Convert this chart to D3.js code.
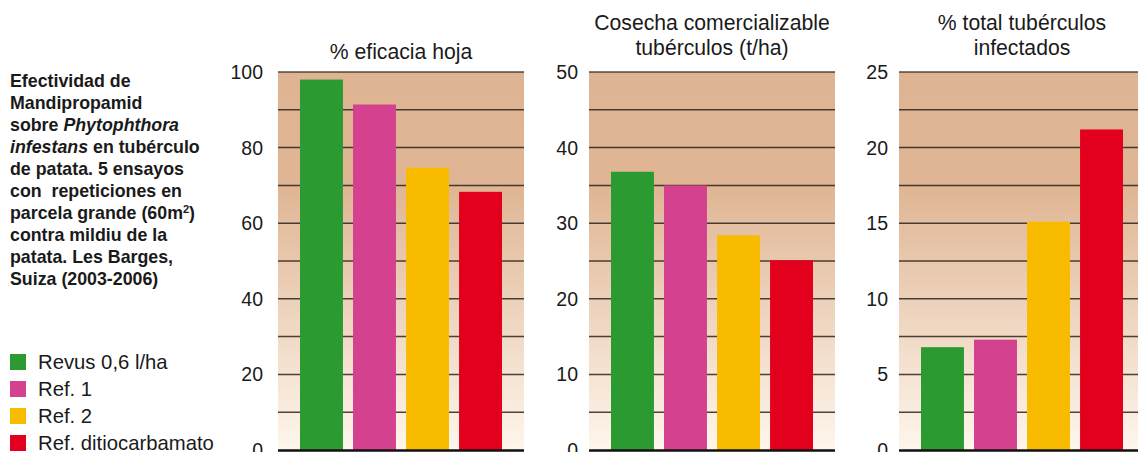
<!DOCTYPE html>
<html>
<head>
<meta charset="utf-8">
<script src="https://cdn.jsdelivr.net/npm/d3@7"></script>
<style>
  html, body { margin: 0; padding: 0; background: #fff; }
  svg { display: block; font-family: "Liberation Sans", Arial, Helvetica, sans-serif; }
  .note { font-weight: bold; font-size: 17.8px; fill: #1a1a1a; white-space: pre; }
  .legend text { font-size: 20.3px; fill: #1a1a1a; }
  .tick-label { font-size: 19.5px; fill: #1a1a1a; }
  .title { font-size: 21.2px; fill: #1a1a1a; }
</style>
</head>
<body>
<div id="chart"></div>
<script>
// data
const series = ['Revus 0,6 l/ha', 'Ref. 1', 'Ref. 2', 'Ref. ditiocarbamato'];
const seriesColors = ['#2a9a31', '#d4428f', '#f9bb00', '#e2001c'];

const eficaciaHoja = [98, 91.4, 74.7, 68.3];
const cosecha = [36.8, 35.0, 28.4, 25.1];
const infectados = [6.8, 7.3, 15.1, 21.2];

const panelTitles = [
  ['% eficacia hoja'],
  ['Cosecha comercializable', 'tubérculos (t/ha)'],
  ['% total tubérculos', 'infectados']
];
const yMax = [100, 50, 25];
const tickStep = [20, 10, 5];
const gridStep = [10, 5, 2.5];

// note text, each line a list of [text, style]
const noteLines = [
  [['Efectividad de']],
  [['Mandipropamid']],
  [['sobre '], ['Phytophthora', 'i']],
  [['infestans', 'i'], [' en tubérculo']],
  [['de patata. 5 ensayos']],
  [['con  repeticiones en']],
  [['parcela grande (60m'], ['2', 'sup'], [')']],
  [['contra mildiu de la']],
  [['patata. Les Barges,']],
  [['Suiza (2003-2006)']]
];

const W = 1138, H = 452;
const panelX = [278, 589, 899];
const panelW = 246;
const plotTop = 72, plotBottom = 450;
const titleBase = [[59], [30, 55], [30, 55]];
const labelGap = [15, 11, 11];

const svg = d3.select('#chart').append('svg')
  .attr('width', W).attr('height', H);

const defs = svg.append('defs');
const grad = defs.append('linearGradient')
  .attr('id', 'bg').attr('gradientUnits', 'userSpaceOnUse')
  .attr('x1', 0).attr('y1', plotTop).attr('x2', 0).attr('y2', plotBottom);
grad.append('stop').attr('offset', 0).attr('stop-color', '#dfb492');
grad.append('stop').attr('offset', 0.3).attr('stop-color', '#dfb593');
grad.append('stop').attr('offset', 1).attr('stop-color', '#fef6ec');

// note block
const note = svg.append('text').attr('class', 'note');
noteLines.forEach((parts, i) => {
  const line = note.append('tspan').attr('x', 10).attr('y', 87 + i * 22);
  parts.forEach(([txt, st]) => {
    const t = line.append('tspan').text(txt);
    if (st === 'i') t.attr('font-style', 'italic');
    if (st === 'sup') t.attr('font-size', '11px').attr('dy', -6);
    if (txt === ')') t.attr('dy', 6);
  });
});

// legend
const legend = svg.append('g').attr('class', 'legend');
series.forEach((s, i) => {
  const y = 362 + i * 27;
  legend.append('rect')
    .attr('x', 10).attr('y', y - 8).attr('width', 16).attr('height', 16)
    .attr('fill', seriesColors[i]);
  legend.append('text')
    .attr('x', 38).attr('y', y).attr('dy', '0.36em')
    .text(s);
});

// panels
const panelData = [eficaciaHoja, cosecha, infectados];

panelData.forEach((vals, p) => {
  const x0 = panelX[p];
  const g = svg.append('g');

  const x = d3.scaleBand()
    .domain(series)
    .range([x0, x0 + panelW])
    .paddingInner(0.19)
    .paddingOuter(0.415);

  const y = d3.scaleLinear()
    .domain([0, yMax[p]])
    .range([plotBottom, plotTop]);

  g.append('rect')
    .attr('x', x0).attr('y', plotTop)
    .attr('width', panelW).attr('height', plotBottom - plotTop)
    .attr('fill', 'url(#bg)');

  const grid = d3.range(gridStep[p], yMax[p] + 0.001, gridStep[p]);
  g.selectAll('.grid').data(grid).join('line')
    .attr('x1', x0).attr('x2', x0 + panelW)
    .attr('y1', d => y(d)).attr('y2', d => y(d))
    .attr('stroke', d => d === yMax[p] ? '#3a2e25' : '#2a2520')
    .attr('stroke-opacity', 0.85)
    .attr('stroke-width', 1.5);

  g.selectAll('.bar').data(vals).join('rect')
    .attr('x', (d, i) => x(series[i]))
    .attr('y', d => y(d))
    .attr('width', x.bandwidth())
    .attr('height', d => plotBottom - y(d))
    .attr('fill', (d, i) => seriesColors[i]);

  g.append('line')
    .attr('x1', x0).attr('x2', x0 + panelW)
    .attr('y1', plotBottom + 0.5).attr('y2', plotBottom + 0.5)
    .attr('stroke', '#111').attr('stroke-width', 2.5);

  const ticks = d3.range(0, yMax[p] + 0.001, tickStep[p]);
  g.selectAll('.tick-label').data(ticks).join('text')
    .attr('class', 'tick-label')
    .attr('x', x0 - labelGap[p])
    .attr('y', d => y(d))
    .attr('dy', '0.36em')
    .attr('text-anchor', 'end')
    .text(d => d);

  panelTitles[p].forEach((t, i) => {
    g.append('text')
      .attr('class', 'title')
      .attr('x', x0 + panelW / 2)
      .attr('y', titleBase[p][i])
      .attr('text-anchor', 'middle')
      .text(t);
  });
});
</script>
</body>
</html>
